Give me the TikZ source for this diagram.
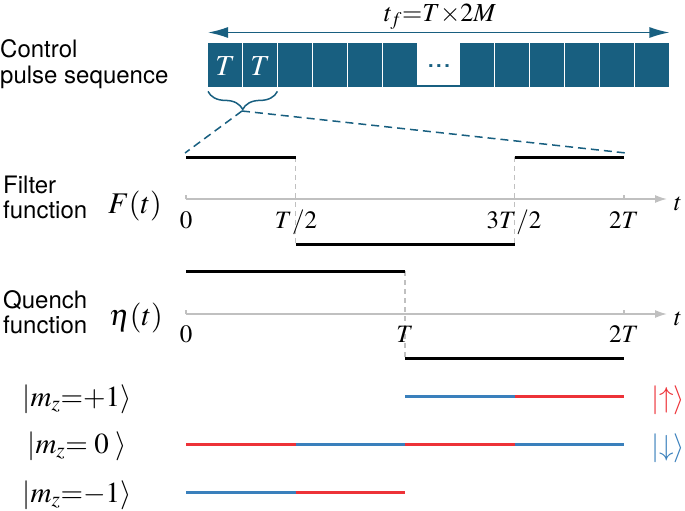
\documentclass[tikz,border=0pt]{standalone}
\usepackage{mathptmx}
\usepackage[no-math]{fontspec}
\setsansfont{TeX Gyre Heros}
\usetikzlibrary{arrows.meta,decorations.pathreplacing,positioning}
\definecolor{pulseblue}{RGB}{24,95,128}
\definecolor{spinred}{RGB}{237,50,56}
\definecolor{spinblue}{RGB}{58,128,188}
\definecolor{axisgray}{RGB}{192,192,192}

\begin{document}
\begin{tikzpicture}[x=1pt,y=-1pt]
\tikzstyle{label} = [font=\fontsize{24}{25}\selectfont\sffamily, align=left, inner sep=0pt]
\tikzstyle{math} = [font=\fontsize{25}{28}\selectfont, inner sep=0pt]
\tikzstyle{bigmath} = [font=\fontsize{30}{32}\selectfont, inner sep=0pt]
\tikzstyle{ket} = [font=\fontsize{29}{32}\selectfont, inner sep=0pt]
\tikzstyle{cell} = [rectangle, fill=pulseblue, text=white, minimum width=34pt,
minimum height=44pt, inner sep=0pt, anchor=north west]
\tikzstyle{span} = [draw=pulseblue, line width=1.5pt, {Latex[length=20pt,width=11pt]}-{Latex[length=20pt,width=11pt]}]
\tikzstyle{zoomline} = [draw=pulseblue, line width=1.5pt, dash pattern=on 8pt off 5pt]
\tikzstyle{signal} = [draw=black, line width=3pt]
\tikzstyle{axis} = [draw=axisgray, line width=1.5pt, -{Latex[length=12pt,width=8pt]}]
\tikzstyle{tick} = [draw=axisgray, line width=1.5pt]
\tikzstyle{guide} = [draw=axisgray, line width=1.2pt, dash pattern=on 5pt off 4pt]
\tikzstyle{spinup} = [draw=spinred, line width=3pt]
\tikzstyle{spindown} = [draw=spinblue, line width=3pt]
\useasboundingbox (0,0) rectangle (685,511);

% pulse sequence
\node[label, anchor=base west] (ctrl) at (0,83) {Control\\pulse sequence};
\foreach \i in {0,...,5}
  \node[cell] (c\i) at ({208+35*\i},43) {};
\foreach \i in {0,...,5}
  \node[cell] (d\i) at ({460+35*\i},43) {};
\node[ket, text=white] at ([yshift=-1pt]c0) {$T$};
\node[ket, text=white] at ([yshift=-1pt]c1) {$T$};
\fill[pulseblue] (c5.south east) rectangle ([yshift=2pt]d0.south west);
\node[font=\fontsize{20}{20}\selectfont\sffamily\bfseries, text=pulseblue, inner sep=0pt,
  anchor=base] (dots) at (439,67) {.\hspace{2.5pt}.\hspace{2.5pt}.};
\draw[span] ([yshift=10.5pt]c0.north west) -- ([yshift=10.5pt]d5.north east);
\node[font=\fontsize{26}{28}\selectfont, inner sep=0pt, anchor=base] (tf) at (440,22) {$t_f{=}T{\times}2M$};
\draw[pulseblue, line width=1.5pt, decorate, decoration={brace, mirror, amplitude=18pt}]
  ([yshift=-4pt]c0.south west) -- ([yshift=-4pt]c1.south east);
\coordinate (brace) at (242,111);

% time grid
\foreach \n/\x in {0/186, 1/295.5, 2/405, 3/514.5, 4/624}
  \coordinate (x\n) at (\x,0);
\coordinate (fhi) at (0,157);
\coordinate (fax) at (0,199);
\coordinate (flo) at (0,244);
\coordinate (ehi) at (0,271);
\coordinate (eax) at (0,314);
\coordinate (elo) at (0,358);
\coordinate (fstart) at (185,153);
\coordinate (fend) at (626,153);
\draw[zoomline] (brace) -- (fstart);
\draw[zoomline] (brace) -- (fend);

% filter function
\node[label, anchor=base west] (filt) at (3,218) {Filter\\function};
\node[bigmath, anchor=base] (Flab) at (135,213) {$F(t)$};
\draw[guide] (x1 |- fhi) -- (x1 |- flo);
\draw[guide] (x3 |- fhi) -- (x3 |- flo);
\draw[axis] (x0 |- fax) -- (667,199);
\draw[tick] (x0 |- fax) -- ++(0,-4);
\draw[tick] (x4 |- fax) -- ++(0,-4);
\draw[signal] (x0 |- fhi) -- (x1 |- fhi);
\draw[signal] (x1 |- flo) -- (x3 |- flo);
\draw[signal] (x3 |- fhi) -- (x4 |- fhi);
\node[math, anchor=base] at (186,228) {$0$};
\node[math, anchor=base] at (296,228) {$T/2$};
\node[math, anchor=base] at (514,228) {$3T/2$};
\node[math, anchor=base] at (624,228) {$2T$};
\node[math, anchor=base] at (678,210) {$t$};

% quench function
\node[label, anchor=base west] (quen) at (3,333) {Quench\\function};
\node[bigmath, anchor=base] (elab) at (136,325) {$\eta(t)$};
\draw[guide] (x2 |- ehi) -- (x2 |- elo);
\draw[axis] (x0 |- eax) -- (667,314);
\draw[tick] (x0 |- eax) -- ++(0,-4);
\draw[tick] (x4 |- eax) -- ++(0,-4);
\draw[signal] (x0 |- ehi) -- (x2 |- ehi);
\draw[signal] (x2 |- elo) -- (x4 |- elo);
\node[math, anchor=base] at (186,342) {$0$};
\node[math, anchor=base] at (405,342) {$T$};
\node[math, anchor=base] at (624,342) {$2T$};
\node[math, anchor=base] at (678,325) {$t$};

% spin states
\coordinate (sp) at (0,396);
\coordinate (sz) at (0,444);
\coordinate (sm) at (0,492);
\node[ket, anchor=base] (plus) at (77,406) {$|m_z{=}{+}1\rangle$};
\node[ket, anchor=base] (zero) at (77,453) {$|m_z{=}\;0\;\rangle$};
\node[ket, anchor=base] (minus) at (77,502) {$|m_z{=}{-}1\rangle$};
\draw[spindown] (x2 |- sp) -- (x3 |- sp);
\draw[spinup] (x3 |- sp) -- (x4 |- sp);
\draw[spinup] (x0 |- sz) -- (x1 |- sz);
\draw[spindown] (x1 |- sz) -- (x2 |- sz);
\draw[spinup] (x2 |- sz) -- (x3 |- sz);
\draw[spindown] (x3 |- sz) -- (x4 |- sz);
\draw[spindown] (x0 |- sm) -- (x1 |- sm);
\draw[spinup] (x1 |- sm) -- (x2 |- sm);
\node[ket, anchor=base west, text=spinred] (upket) at (651,407) {$|{\uparrow}\rangle$};
\node[ket, anchor=base west, text=spinblue] (downket) at (651,455) {$|{\downarrow}\rangle$};
\end{tikzpicture}
\end{document}
